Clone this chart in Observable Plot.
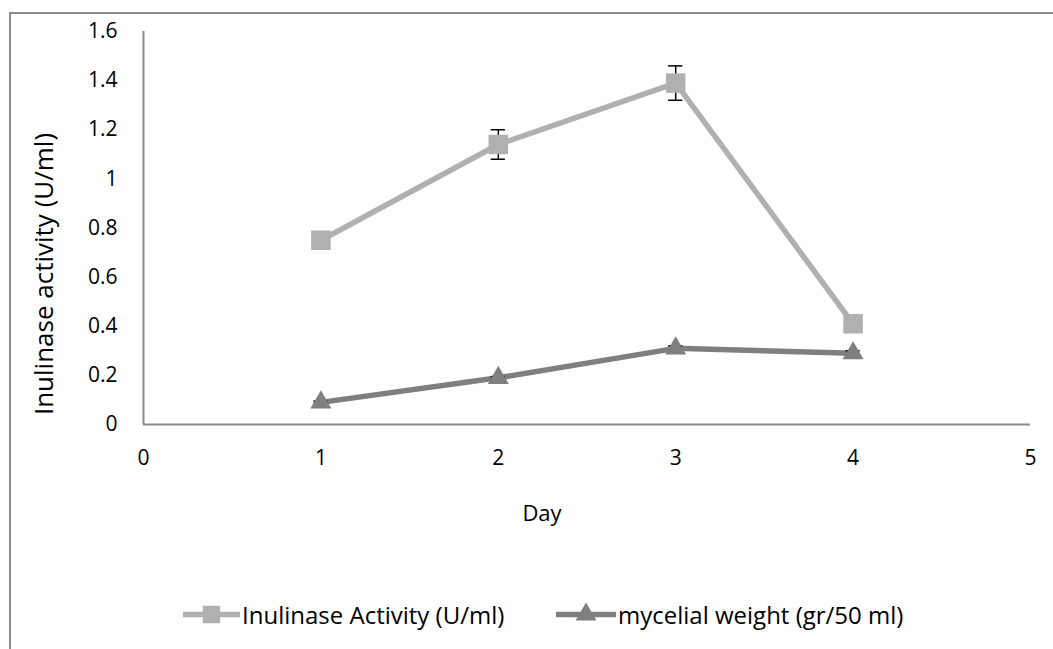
<!DOCTYPE html>
<html>
<head>
<meta charset="utf-8">
<script src="https://cdn.jsdelivr.net/npm/d3@7"></script>
<script src="https://cdn.jsdelivr.net/npm/@observablehq/plot@0.6"></script>
<style>
  html, body { margin: 0; padding: 0; background: #fff; }
  #wrap { position: relative; width: 1053px; height: 649px; overflow: hidden; font-family: "Open Sans", sans-serif; color: #000; }
  #frame { position: absolute; left: 9px; top: 12px; width: 1100px; height: 700px; border-left: 2px solid #8a8a8a; border-top: 2px solid #8a8a8a; }
  #chart { position: absolute; left: 0; top: 0; }
  #ylab { position: absolute; left: 43px; top: 274px; transform: translate(-50%, -50%) rotate(-90deg); white-space: nowrap; font-size: 26px; }
  #xlab { position: absolute; left: 542px; top: 512px; transform: translate(-50%, -50%); font-size: 22px; }
  .leg { position: absolute; top: 614px; display: flex; align-items: center; transform: translateY(-50%); font-size: 24px; white-space: nowrap; }
  .leg svg { display: block; margin-right: 2px; }
</style>
</head>
<body>
<div id="wrap">
  <div id="frame"></div>
  <div id="chart"></div>
  <div id="ylab">Inulinase activity (U/ml)</div>
  <div id="xlab">Day</div>
  <div class="leg" id="leg1" style="left:183px"></div>
  <div class="leg" id="leg2" style="left:556px"></div>
</div>
<script>
const days = [1, 2, 3, 4];
const inulinase = [0.75, 1.14, 1.39, 0.41];
const inulinaseErr = [0.01, 0.06, 0.07, 0.01];
const mycelial = [0.09, 0.19, 0.31, 0.29];
const mycelialErr = [0.005, 0.005, 0.01, 0.01];
const xTicks = [0, 1, 2, 3, 4, 5];
const yTicks = [0, 0.2, 0.4, 0.6, 0.8, 1, 1.2, 1.4, 1.6];
const seriesNames = ["Inulinase Activity (U/ml)", "mycelial weight (gr/50 ml)"];
const colInul = "#b0b0b0";
const colMyc = "#7f7f7f";

const inulData = days.map((d, i) => ({day: d, v: inulinase[i], e: inulinaseErr[i]}));
const mycData = days.map((d, i) => ({day: d, v: mycelial[i], e: mycelialErr[i]}));
const capHalf = 0.04;

const errMarks = (data) => [
  Plot.ruleX(data, {x: "day", y1: d => d.v - d.e, y2: d => d.v + d.e, stroke: "#000", strokeWidth: 1.5}),
  Plot.ruleY(data, {y: d => d.v + d.e, x1: d => d.day - capHalf, x2: d => d.day + capHalf, stroke: "#000", strokeWidth: 1.5}),
  Plot.ruleY(data, {y: d => d.v - d.e, x1: d => d.day - capHalf, x2: d => d.day + capHalf, stroke: "#000", strokeWidth: 1.5})
];

const chart = Plot.plot({
  width: 1053,
  height: 649,
  marginLeft: 143,
  marginRight: 23,
  marginTop: 31,
  marginBottom: 225,
  style: {fontFamily: "Open Sans, sans-serif", fontSize: "21px", color: "#000", background: "transparent"},
  x: {domain: [0, 5], ticks: xTicks, tickSize: 0, tickPadding: 26, tickFormat: d => String(d), label: null},
  y: {domain: [0, 1.6], ticks: yTicks, tickSize: 0, tickPadding: 26, tickFormat: d => String(d), label: null},
  marks: [
    Plot.ruleY([0], {stroke: "#8a8a8a", strokeWidth: 2}),
    Plot.ruleX([0], {stroke: "#8a8a8a", strokeWidth: 2}),
    Plot.line(inulData, {x: "day", y: "v", stroke: colInul, strokeWidth: 5.5}),
    Plot.line(mycData, {x: "day", y: "v", stroke: colMyc, strokeWidth: 5.5}),
    ...errMarks(inulData),
    ...errMarks(mycData),
    Plot.dot(inulData, {x: "day", y: "v", symbol: "square", r: 11, fill: colInul, stroke: "none"}),
    Plot.dot(mycData, {x: "day", y: "v", symbol: "triangle", r: 7.8, fill: colMyc, stroke: "none"})
  ]
});
document.getElementById("chart").appendChild(chart);

function swatch(color, symbol, w) {
  const s = d3.create("svg").attr("width", w).attr("height", 24);
  s.append("line").attr("x1", 0).attr("x2", w).attr("y1", 12).attr("y2", 12)
    .attr("stroke", color).attr("stroke-width", 5.5).attr("stroke-linecap", "round");
  const sym = d3.symbol().type(symbol === "square" ? d3.symbolSquare : d3.symbolTriangle)
    .size(symbol === "square" ? 300 : 190);
  s.append("path").attr("d", sym()).attr("transform", `translate(${w / 2},12)`).attr("fill", color);
  return s.node();
}
const l1 = document.getElementById("leg1");
l1.appendChild(swatch(colInul, "square", 57));
l1.appendChild(Object.assign(document.createElement("span"), {textContent: seriesNames[0]}));
const l2 = document.getElementById("leg2");
l2.appendChild(swatch(colMyc, "triangle", 60));
l2.appendChild(Object.assign(document.createElement("span"), {textContent: seriesNames[1]}));
</script>
</body>
</html>
